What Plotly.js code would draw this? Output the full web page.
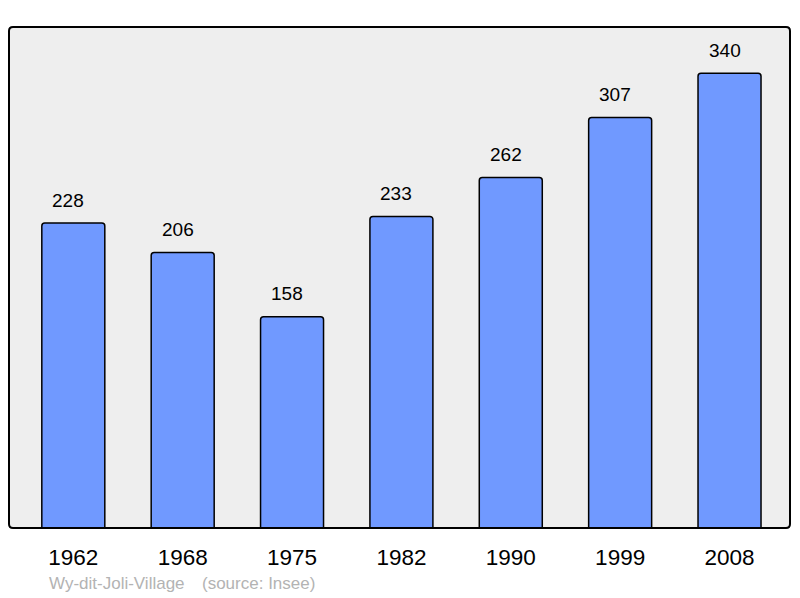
<!DOCTYPE html>
<html>
<head>
<meta charset="utf-8">
<script src="https://cdn.plot.ly/plotly-3.0.1.min.js"></script>
<style>html,body{margin:0;padding:0;background:#fff;}#chart{width:800px;height:598px;}</style>
</head>
<body>
<div id="chart"></div>
<script>
const years = ["1962", "1968", "1975", "1982", "1990", "1999", "2008"];
const population = [228, 206, 158, 233, 262, 307, 340];
const placeName = "Wy-dit-Joli-Village";
const sourceText = "(source: Insee)";

const FONT = "Liberation Sans, Arial, sans-serif";

const trace = {
  type: "bar",
  x: years,
  y: population,
  width: 0.576,
  marker: {
    color: "rgb(112,153,255)",
    line: {color: "#000", width: 1.5},
    cornerradius: 3
  },
  hoverinfo: "none"
};

// category axis: annotation positions given by category index
const valueAnnotations = years.map((yr, i) => ({
  x: i, y: population[i], xref: "x", yref: "y",
  text: String(population[i]),
  showarrow: false, yanchor: "middle", yshift: 23, xshift: -5,
  font: {family: FONT, size: 19, color: "#000"}
}));

// rounded border path in paper coords
const W = 781, H = 501, r = 4;
const rx = r / W, ry = r / H;
const borderPath =
  `M ${rx} 0 L ${1 - rx} 0 Q 1 0 1 ${ry} L 1 ${1 - ry} Q 1 1 ${1 - rx} 1 ` +
  `L ${rx} 1 Q 0 1 0 ${1 - ry} L 0 ${ry} Q 0 0 ${rx} 0 Z`;

const footY = -(583 - 528) / H;

const layout = {
  width: 800, height: 598,
  margin: {l: 9, r: 10, t: 27, b: 70, pad: 0},
  paper_bgcolor: "#fff",
  plot_bgcolor: "#eeeeee",
  showlegend: false,
  font: {family: FONT, color: "#000"},
  xaxis: {
    type: "category",
    range: [-0.588, 6.553],
    showgrid: false, zeroline: false, showline: false,
    ticks: "",
    tickfont: {family: FONT, size: 22.5, color: "#000"},
    ticklabelstandoff: 13,
    fixedrange: true
  },
  yaxis: {
    range: [0, 374.6],
    showgrid: false, zeroline: false, showline: false,
    showticklabels: false, ticks: "",
    fixedrange: true
  },
  shapes: [{
    type: "path", xref: "paper", yref: "paper",
    path: borderPath,
    line: {color: "#000", width: 2},
    layer: "above"
  }],
  annotations: valueAnnotations.concat([
    {xref: "paper", yref: "paper", x: (47 - 9) / W, y: footY, text: placeName, showarrow: false,
     xanchor: "left", yanchor: "middle",
     font: {family: FONT, size: 17, color: "#b3b3b3"}},
    {xref: "paper", yref: "paper", x: (200 - 9) / W, y: footY, text: sourceText, showarrow: false,
     xanchor: "left", yanchor: "middle",
     font: {family: FONT, size: 17, color: "#b3b3b3"}}
  ])
};

Plotly.newPlot("chart", [trace], layout, {staticPlot: true, displayModeBar: false});
</script>
</body>
</html>
